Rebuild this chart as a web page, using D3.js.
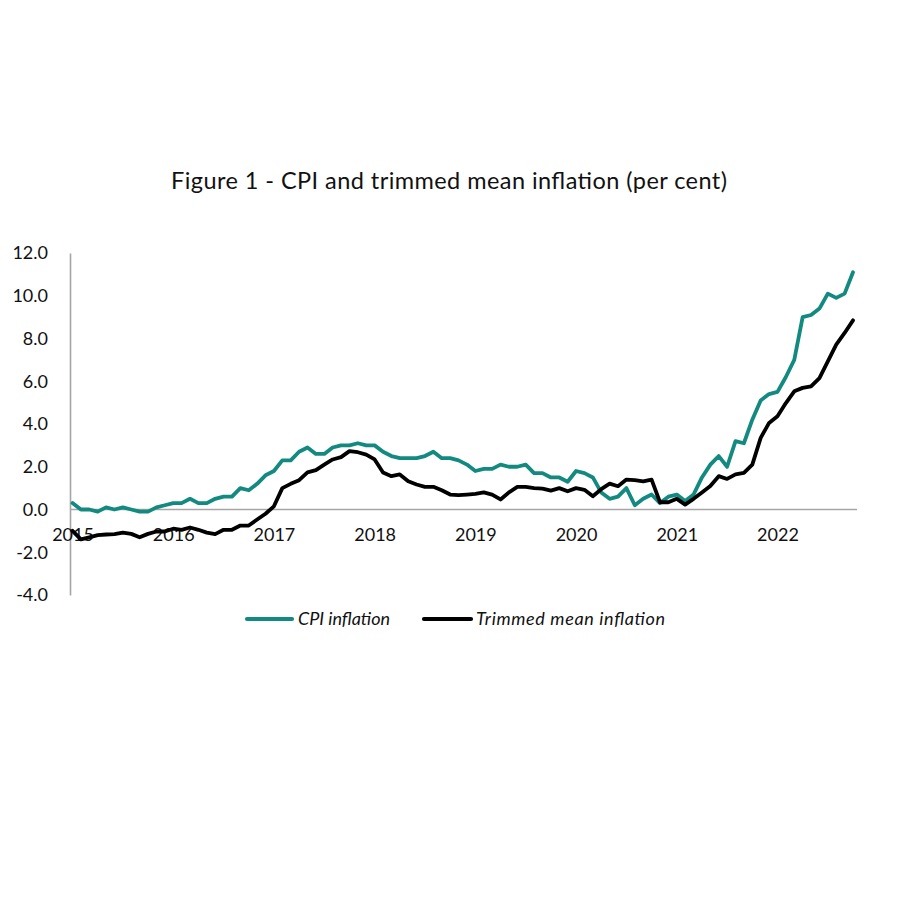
<!DOCTYPE html>
<html>
<head>
<meta charset="utf-8">
<script src="https://cdn.jsdelivr.net/npm/d3@7"></script>
<style>
  html, body { margin: 0; padding: 0; background: #fff; }
  svg { display: block; }
</style>
</head>
<body>
<svg id="chart" width="900" height="900"></svg>
<script>
// ---- Data (monthly, Jan 2015 – Oct 2022) ----
const startYear = 2015;
const cpiInflation = [
  0.3, 0.0, 0.0, -0.1, 0.1, 0.0, 0.1, 0.0, -0.1, -0.1, 0.1, 0.2,
  0.3, 0.3, 0.5, 0.3, 0.3, 0.5, 0.6, 0.6, 1.0, 0.9, 1.2, 1.6,
  1.8, 2.3, 2.3, 2.7, 2.9, 2.6, 2.6, 2.9, 3.0, 3.0, 3.1, 3.0,
  3.0, 2.7, 2.5, 2.4, 2.4, 2.4, 2.5, 2.7, 2.4, 2.4, 2.3, 2.1,
  1.8, 1.9, 1.9, 2.1, 2.0, 2.0, 2.1, 1.7, 1.7, 1.5, 1.5, 1.3,
  1.8, 1.7, 1.5, 0.8, 0.5, 0.6, 1.0, 0.2, 0.5, 0.7, 0.3, 0.6,
  0.7, 0.4, 0.7, 1.5, 2.1, 2.5, 2.0, 3.2, 3.1, 4.2, 5.1, 5.4,
  5.5, 6.2, 7.0, 9.0, 9.1, 9.4, 10.1, 9.9, 10.1, 11.1
];
const trimmedMeanInflation = [
  -1.0, -1.4, -1.3, -1.2, -1.17, -1.15, -1.08, -1.14, -1.3, -1.14, -1.03, -1.03,
  -0.9, -0.95, -0.84, -0.95, -1.08, -1.15, -0.95, -0.95, -0.75, -0.75, -0.47, -0.2,
  0.15, 1.0, 1.2, 1.37, 1.74, 1.84, 2.1, 2.34, 2.45, 2.73, 2.68, 2.57,
  2.34, 1.73, 1.56, 1.64, 1.32, 1.17, 1.06, 1.06, 0.9, 0.7, 0.67, 0.7,
  0.73, 0.8, 0.7, 0.47, 0.8, 1.06, 1.06, 1.0, 0.98, 0.88, 1.0, 0.85,
  1.0, 0.92, 0.62, 0.95, 1.21, 1.09, 1.4, 1.37, 1.32, 1.4, 0.34, 0.34,
  0.5, 0.23, 0.5, 0.8, 1.1, 1.56, 1.43, 1.64, 1.71, 2.1, 3.35, 4.05,
  4.36, 4.98, 5.53, 5.69, 5.76, 6.15, 6.93, 7.71, 8.26, 8.85
];
const yearLabels = ["2015", "2016", "2017", "2018", "2019", "2020", "2021", "2022"];
const yTicks = [-4, -2, 0, 2, 4, 6, 8, 10, 12];
const seriesNames = ["CPI inflation", "Trimmed mean inflation"];
const seriesColors = ["#138a80", "#000000"];

const titleText = "Figure 1 - CPI and trimmed mean inflation (per cent)";

// ---- Layout ----
const svg = d3.select("#chart");
const axisLeft = 70, axisRight = 857;
const yTop = 253, yBottom = 595;

const x = d3.scaleLinear().domain([0, cpiInflation.length - 1]).range([72.5, 853]);
const y = d3.scaleLinear().domain([-4, 12]).range([yBottom, yTop]);

const axisColor = "#a6a6a6";
const tickFont = "Lato, 'Open Sans', sans-serif";

// Title
svg.append("text")
  .attr("x", 449).attr("y", 189)
  .attr("text-anchor", "middle")
  .attr("font-family", "Lato, 'Noto Sans', sans-serif")
  .attr("font-size", 23.5)
  .attr("fill", "#111")
  .attr("textLength", 556)
  .attr("lengthAdjust", "spacing")
  .text(titleText);

// Y axis
const yAxis = d3.axisLeft(y)
  .tickValues(yTicks)
  .tickFormat(d3.format(".1f"))
  .tickSize(0)
  .tickPadding(22);
const gy = svg.append("g").attr("transform", `translate(${axisLeft},0)`).call(yAxis);
gy.select(".domain").attr("stroke", axisColor).attr("stroke-width", 1.6);
gy.selectAll("text")
  .attr("font-family", tickFont)
  .attr("font-size", 18)
  .attr("fill", "#111")
  .text(d => d3.format(".1f")(d).replace("−", "-"));

// X axis at zero
const yearIdx = yearLabels.map((_, k) => k * 12);
const xAxis = d3.axisBottom(x)
  .tickValues(yearIdx)
  .tickFormat((d, k) => yearLabels[k])
  .tickSize(0)
  .tickPadding(19);
const gx = svg.append("g").attr("transform", `translate(0,${y(0)})`).call(xAxis);
gx.select(".domain").remove();
gx.append("line")
  .attr("x1", axisLeft).attr("x2", axisRight)
  .attr("y1", 0).attr("y2", 0)
  .attr("stroke", axisColor).attr("stroke-width", 1.6);
gx.selectAll("text")
  .attr("font-family", tickFont)
  .attr("font-size", 18)
  .attr("fill", "#111");

// Lines
const line = d3.line().x((d, i) => x(i)).y(d => y(d));
const allSeries = [cpiInflation, trimmedMeanInflation];
svg.append("g").selectAll("path")
  .data(allSeries)
  .join("path")
  .attr("d", d => line(d))
  .attr("fill", "none")
  .attr("stroke", (d, i) => seriesColors[i])
  .attr("stroke-width", 3.8)
  .attr("stroke-linejoin", "round")
  .attr("stroke-linecap", "round");

// Legend
const legendY = 619;
const legendItems = [
  { x1: 247, x2: 292, tx: 298, w: 92 },
  { x1: 424, x2: 471, tx: 476, w: 189 }
];
const lg = svg.append("g");
legendItems.forEach((it, i) => {
  lg.append("line")
    .attr("x1", it.x1).attr("x2", it.x2)
    .attr("y1", legendY).attr("y2", legendY)
    .attr("stroke", seriesColors[i])
    .attr("stroke-width", 4.2)
    .attr("stroke-linecap", "round");
  lg.append("text")
    .attr("x", it.tx).attr("y", legendY + 6)
    .attr("font-family", tickFont)
    .attr("font-style", "italic")
    .attr("font-size", 18)
    .attr("fill", "#111")
    .attr("textLength", it.w)
    .attr("lengthAdjust", "spacing")
    .text(seriesNames[i]);
});
</script>
</body>
</html>
